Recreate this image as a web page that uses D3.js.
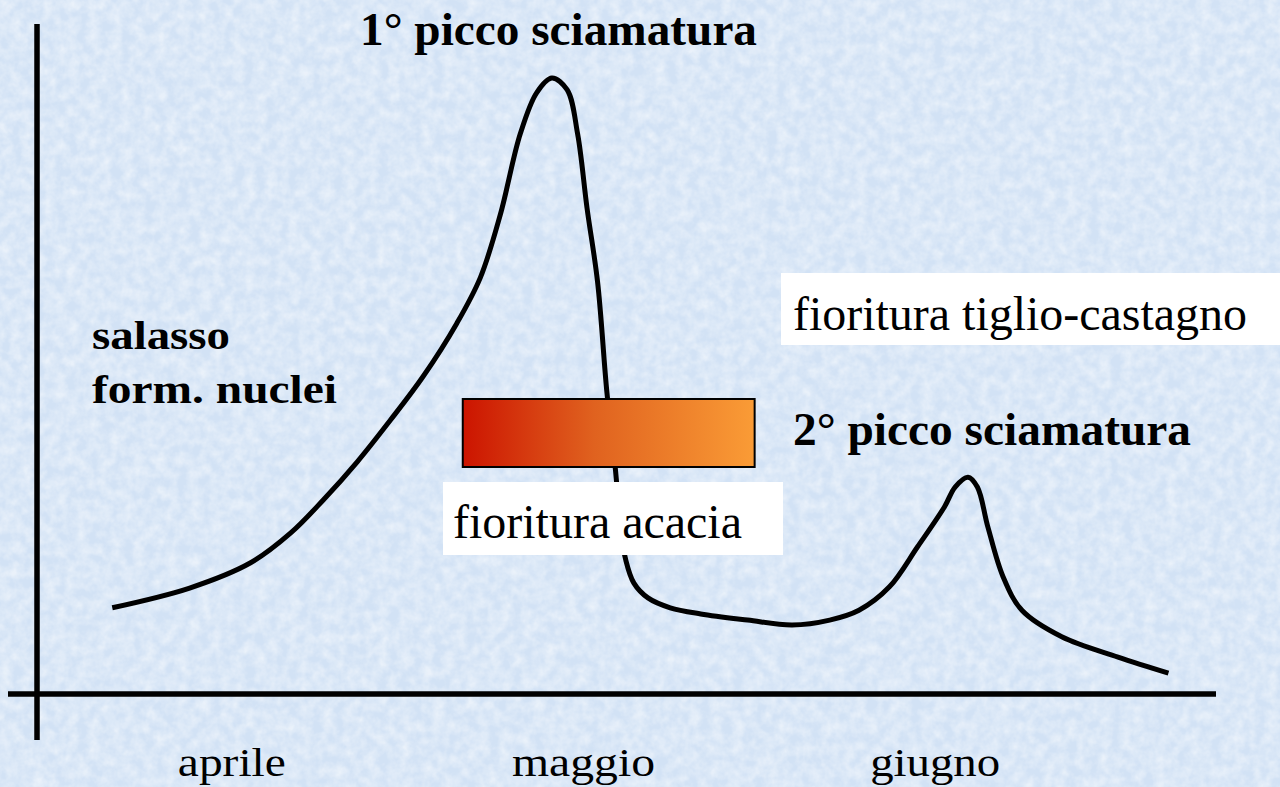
<!DOCTYPE html>
<html>
<head>
<meta charset="utf-8">
<script src="https://cdn.jsdelivr.net/npm/d3@7"></script>
<style>
  html, body { margin: 0; padding: 0; background: #d7e6f6; }
  #chart svg { display: block; }
</style>
</head>
<body>
<div id="chart"></div>
<script>
// swarming curve: day since 1 April, relative intensity (0-100)
const days = [4.8, 11.4, 16.6, 20.0, 22.8, 25.7, 28.5, 31.3, 34.2, 36.2, 37.9, 39.6, 41.0, 42.3,
  43.6, 44.5, 45.3, 46.2, 47.0, 47.7, 48.2, 48.6, 49.3, 50.5, 52.4, 55.0, 59.0, 62.8, 66.0,
  68.5, 71.1, 73.5, 75.8, 76.7, 77.8, 78.6, 79.5, 80.8, 82.4, 85.8, 90.6, 94.9];
const intensity = [14.0, 17.2, 21.3, 26.1, 31.5, 37.7, 44.4, 51.5, 60.2, 67.6, 77.8, 90.9, 97.6, 100,
  98.1, 90.9, 78.9, 66.9, 48.9, 36.9, 26.6, 21.8, 18.0, 15.6, 14.0, 13.0, 12.0, 11.2, 12.0,
  13.6, 17.4, 23.9, 30.4, 33.6, 35.2, 33.6, 27.1, 19.0, 13.6, 9.3, 6.0, 3.4];

const months = ['aprile', 'maggio', 'giugno'];
const monthMid = [15, 45, 75];

// acacia flowering period (days)
const acacia = [34.7, 59.6];

const width = 1280;
const height = 787;

const svg = d3
  .select('#chart')
  .append('svg')
  .attr('width', width)
  .attr('height', height);

// textured light blue background
const defs = svg.append('defs');
const tex = defs.append('filter').attr('id', 'paper').attr('x', 0).attr('y', 0)
  .attr('width', '100%').attr('height', '100%');
tex.append('feTurbulence').attr('type', 'fractalNoise')
  .attr('baseFrequency', 0.09).attr('numOctaves', 3).attr('seed', 4);
tex.append('feColorMatrix').attr('type', 'matrix')
  .attr('values', '0 0 0 0 1  0 0 0 0 1  0 0 0 0 1  0 0 0 -1.6 1.15');

const grad = defs.append('linearGradient').attr('id', 'acacia');
grad.append('stop').attr('offset', '0%').attr('stop-color', '#cc1400');
grad.append('stop').attr('offset', '45%').attr('stop-color', '#e0621f');
grad.append('stop').attr('offset', '100%').attr('stop-color', '#fa9c36');

svg.append('rect').attr('width', width).attr('height', height).attr('fill', '#d2e2f5');
svg.append('rect').attr('width', width).attr('height', height)
  .attr('filter', 'url(#paper)').attr('opacity', 0.55);

const x = d3.scaleLinear().domain([0, 90]).range([56, 1111]);
const y = d3.scaleLinear().domain([0, 100]).range([694, 78]);

const serif = '"Liberation Serif", "Times New Roman", serif';

// axes
svg.append('line')
  .attr('x1', 37).attr('x2', 37).attr('y1', 24).attr('y2', 740)
  .attr('stroke', '#000').attr('stroke-width', 5.5);
svg.append('line')
  .attr('x1', 8).attr('x2', 1216).attr('y1', y(0)).attr('y2', y(0))
  .attr('stroke', '#000').attr('stroke-width', 5.5);

// month labels
svg.append('g')
  .selectAll('text')
  .data(months)
  .enter()
  .append('text')
  .attr('x', (d, i) => x(monthMid[i]))
  .attr('y', 776)
  .attr('text-anchor', 'middle')
  .attr('textLength', (d, i) => [108, 143, 130][i])
  .attr('lengthAdjust', 'spacingAndGlyphs')
  .style('font-family', serif)
  .style('font-size', '40px')
  .text((d) => d);

// curve
const points = days.map((d, i) => [d, intensity[i]]);
const line = d3.line()
  .x((d) => x(d[0]))
  .y((d) => y(d[1]))
  .curve(d3.curveCatmullRom.alpha(0.5));

svg.append('path')
  .datum(points)
  .attr('d', line)
  .attr('fill', 'none')
  .attr('stroke', '#000')
  .attr('stroke-width', 5)
  .attr('stroke-linejoin', 'round')
  .attr('stroke-linecap', 'butt');

// acacia flowering bar
svg.append('rect')
  .attr('x', x(acacia[0]))
  .attr('y', 399)
  .attr('width', x(acacia[1]) - x(acacia[0]))
  .attr('height', 68)
  .attr('fill', 'url(#acacia)')
  .attr('stroke', '#000')
  .attr('stroke-width', 2);

// white label boxes
svg.append('rect').attr('x', 443).attr('y', 482).attr('width', 340).attr('height', 73).attr('fill', '#fff');
svg.append('rect').attr('x', 781).attr('y', 273).attr('width', 499).attr('height', 72).attr('fill', '#fff');

const labels = [
  { t: '1° picco sciamatura', x: 360, y: 45, w: 397, bold: true, size: 47 },
  { t: 'salasso', x: 92, y: 349, w: 138, bold: true, size: 41 },
  { t: 'form. nuclei', x: 92, y: 403, w: 245, bold: true, size: 41 },
  { t: 'fioritura tiglio-castagno', x: 793, y: 330, w: 454, bold: false, size: 48 },
  { t: '2° picco sciamatura', x: 793, y: 445, w: 398, bold: true, size: 47 },
  { t: 'fioritura acacia', x: 453, y: 538, w: 289, bold: false, size: 48 },
];

svg.append('g')
  .selectAll('text')
  .data(labels)
  .enter()
  .append('text')
  .attr('x', (d) => d.x)
  .attr('y', (d) => d.y)
  .attr('textLength', (d) => d.w)
  .attr('lengthAdjust', 'spacingAndGlyphs')
  .style('font-family', serif)
  .style('font-weight', (d) => (d.bold ? 'bold' : 'normal'))
  .style('font-size', (d) => d.size + 'px')
  .text((d) => d.t);
</script>
</body>
</html>
